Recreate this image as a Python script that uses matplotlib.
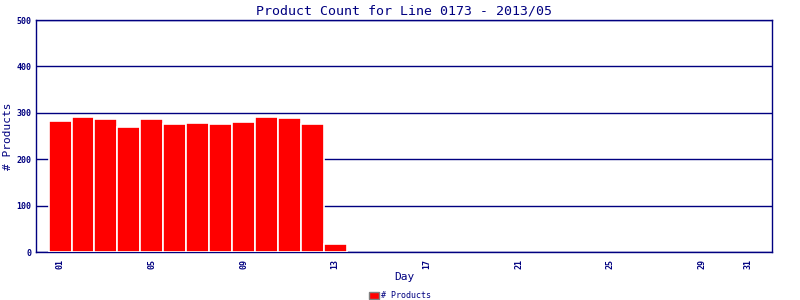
import numpy as np
import matplotlib.pyplot as plt
from matplotlib.patches import Patch

# daily product counts for line 0173, May 2013
days = [1, 2, 3, 4, 5, 6, 7, 8, 9, 10, 11, 12, 13]
counts = [283, 290, 286, 270, 286, 277, 279, 275, 281, 290, 288, 275, 18]
tick_days = [1, 5, 9, 13, 17, 21, 25, 29, 31]
tick_labels = ["01", "05", "09", "13", "17", "21", "25", "29", "31"]

navy = "#000080"
plt.rcParams['font.family'] = ['DejaVu Sans Mono', 'DejaVu Sans']

fig = plt.figure(figsize=(8, 3), dpi=100)
ax = fig.add_axes([0.045, 0.16, 0.92, 0.773])

ax.bar(days, counts, width=1.0, color="#ff0000", edgecolor="white", linewidth=1.2, zorder=3)

ax.set_xlim(-0.05, 32.05)
ax.set_ylim(0, 500)
ax.set_yticks([0, 100, 200, 300, 400, 500])
ax.set_xticks(tick_days)
ax.set_xticklabels(tick_labels, rotation=90)
ax.tick_params(length=0, colors=navy, labelsize=6)
ax.tick_params(axis='x', pad=5)
for lbl in ax.get_xticklabels() + ax.get_yticklabels():
    lbl.set_fontweight('bold')

ax.grid(axis='y', color=navy, linewidth=1, zorder=1)
for s in ax.spines.values():
    s.set_color(navy)
    s.set_linewidth(1)

ax.set_title("Product Count for Line 0173 - 2013/05", color=navy, fontsize=9.5, pad=4)
ax.set_ylabel("# Products", color=navy, fontsize=8, labelpad=2)
ax.set_xlabel("Day", color=navy, fontsize=8, labelpad=2)

fig.legend(handles=[Patch(facecolor="#ff0000", edgecolor="gray", label="# Products")],
           loc='lower center', bbox_to_anchor=(0.5, -0.025), frameon=False,
           fontsize=6, handlelength=1.2, handleheight=0.9, handletextpad=0.3,
           labelcolor=navy)

fig.savefig("out.png", dpi=100)
